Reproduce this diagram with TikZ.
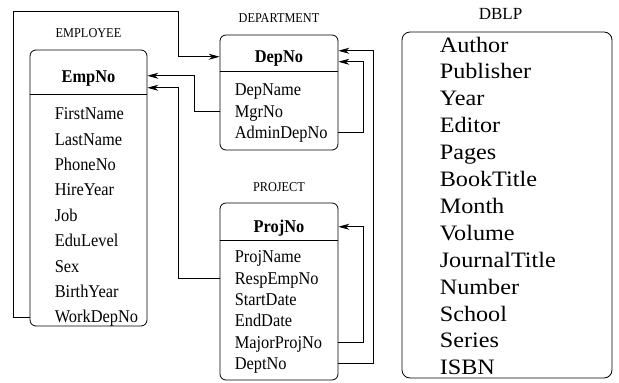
\documentclass[tikz,border=0pt]{standalone}
\usepackage{fontspec}
\setmainfont{Liberation Serif}
\newfontfamily\erfont[FakeStretch=0.91]{Liberation Serif}
\newfontfamily\dblpfont[FakeStretch=1.1]{Liberation Serif}
\usetikzlibrary{arrows.meta,positioning}

\begin{document}
\begin{tikzpicture}[
    x=1pt, y=-1pt,
    table/.style={draw, rounded corners=6pt, line width=0.8pt, inner sep=0pt},
    tablename/.style={inner sep=0pt, text height=8.9pt, text depth=0pt, font=\erfont\fontsize{13.5}{15}\selectfont},
    keyname/.style={inner sep=0pt, text height=11.9pt, text depth=0pt, font=\erfont\fontsize{18}{20}\selectfont\bfseries},
    attr/.style={inner sep=0pt, text height=11.9pt, text depth=0pt, text width=95pt, align=left, font=\erfont\fontsize{18}{20}\selectfont},
    fieldlist/.style={inner sep=0pt, align=left, font=\dblpfont\fontsize{22}{26.9}\selectfont},
    link/.style={line width=0.8pt},
    arrow/.style={line width=0.8pt, -{Stealth[length=11pt,width=6pt]}}
]
    \useasboundingbox (0,0) rectangle (619,383);

    % EMPLOYEE
    \node[table, minimum width=117pt, minimum height=276pt] (emp) at (88.5,188) {};
    \node[tablename, above=12pt of emp] (emplabel) {EMPLOYEE};
    \node[keyname, below=21pt of emp.north] (empno) {EmpNo};
    \draw[link] ([yshift=-45pt]emp.north west) -- ([yshift=-45pt]emp.north east);
    \node[attr, below right=58pt and 25pt of emp.north west] (firstname) {FirstName};
    \node[attr, below=13.1pt of firstname] (lastname) {LastName};
    \node[attr, below=13.1pt of lastname] (phoneno) {PhoneNo};
    \node[attr, below=13.1pt of phoneno] (hireyear) {HireYear};
    \node[attr, below=13.1pt of hireyear] (job) {Job};
    \node[attr, below=13.1pt of job] (edulevel) {EduLevel};
    \node[attr, below=13.1pt of edulevel] (sex) {Sex};
    \node[attr, below=13.1pt of sex] (birthyear) {BirthYear};
    \node[attr, below=13.1pt of birthyear] (workdepno) {WorkDepNo};

    % DEPARTMENT
    \node[table, minimum width=118pt, minimum height=115pt] (dep) at (279,92.5) {};
    \node[tablename, above=12pt of dep] (deplabel) {DEPARTMENT};
    \node[keyname, below=16pt of dep.north] (depno) {DepNo};
    \draw[link] ([yshift=-37pt]dep.north west) -- ([yshift=-37pt]dep.north east);
    \node[attr, below right=49pt and 15pt of dep.north west] (depname) {DepName};
    \node[attr, below=9.1pt of depname] (mgrno) {MgrNo};
    \node[attr, below=9.1pt of mgrno] (admindepno) {AdminDepNo};

    % PROJECT
    \node[table, minimum width=118pt, minimum height=177pt] (proj) at (279,291.5) {};
    \node[tablename, above=11pt of proj] (projlabel) {PROJECT};
    \node[keyname, below=18pt of proj.north] (projno) {ProjNo};
    \draw[link] ([yshift=-38pt]proj.north west) -- ([yshift=-38pt]proj.north east);
    \node[attr, below right=48pt and 15pt of proj.north west] (projname) {ProjName};
    \node[attr, below=9.1pt of projname] (respempno) {RespEmpNo};
    \node[attr, below=9.1pt of respempno] (startdate) {StartDate};
    \node[attr, below=9.1pt of startdate] (enddate) {EndDate};
    \node[attr, below=9.1pt of enddate] (majorprojno) {MajorProjNo};
    \node[attr, below=9.1pt of majorprojno] (deptno) {DeptNo};

    % DBLP
    \node[table, rounded corners=8pt, minimum width=210pt, minimum height=346pt] (dblp) at (507,205) {};
    \node[tablename, font=\fontsize{17}{19}\selectfont, text height=11.2pt, above=11.5pt of dblp, xshift=-6.5pt] (dblplabel) {DBLP};
    \node[fieldlist, below right=5pt and 38pt of dblp.north west] (dblpfields)
        {Author\\Publisher\\Year\\Editor\\Pages\\BookTitle\\Month\\Volume\\JournalTitle\\Number\\School\\Series\\ISBN};

    % references
    \draw[arrow] (workdepno -| emp.west) -- ++(-16,0) -- ++(0,-306) -- ++(165,0) |- (depno -| dep.west);
    \draw[arrow] (mgrno -| dep.west) -- ++(-25,0) |- ([yshift=1pt]empno -| emp.east);
    \draw[arrow] (respempno -| proj.west) -- ++(-41,0) |- ([yshift=-11pt]empno -| emp.east);
    \draw[arrow] (admindepno -| dep.east) -- ++(25,0) |- ([yshift=-5pt]depno -| dep.east);
    \draw[arrow] (deptno -| proj.east) -- ++(35,0) |- ([yshift=6pt]depno -| dep.east);
    \draw[arrow] (majorprojno -| proj.east) -- ++(25,0) |- (projno -| proj.east);
\end{tikzpicture}
\end{document}
